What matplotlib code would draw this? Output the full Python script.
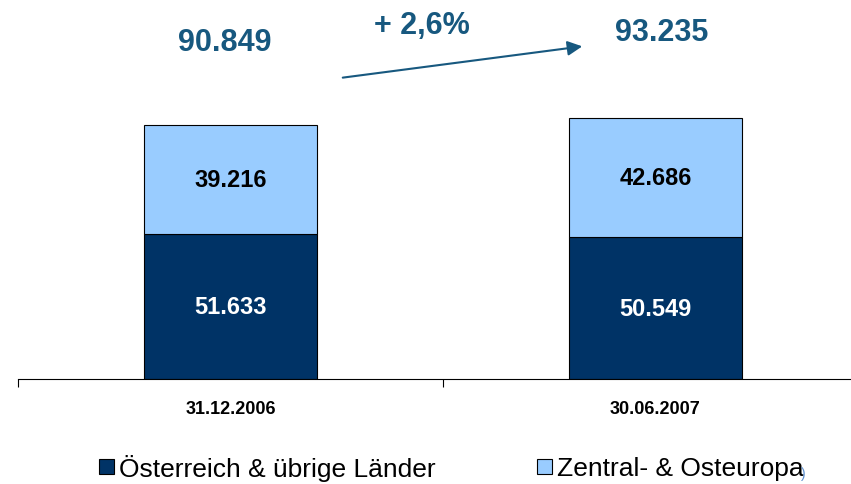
import matplotlib
matplotlib.use("Agg")
import matplotlib.pyplot as plt
import matplotlib.patches as mpatches

plt.rcParams["font.family"] = ["Liberation Sans", "DejaVu Sans"]

# data
dates = ["31.12.2006", "30.06.2007"]
austria = [51633, 50549]
cee = [39216, 42686]
totals = ["90.849", "93.235"]
growth = "+ 2,6%"
series_names = ["Österreich & übrige Länder", "Zentral- & Osteuropa"]

dark = "#003366"
light = "#99CCFF"
head_col = "#17587F"

fig = plt.figure(figsize=(8.51, 4.85), dpi=100)
ax = fig.add_axes([18 / 851, 105 / 485, 850 / 851, 280 / 485])

x = range(len(dates))
ax.bar(x, austria, width=0.405, color=dark, edgecolor="black", linewidth=0.8)
ax.bar(x, cee, width=0.405, bottom=austria, color=light, edgecolor="black", linewidth=0.8)

for i in x:
    ax.text(i, austria[i] / 2, f"{austria[i]/1000:.3f}", ha="center", va="center",
            color="white", fontsize=17, fontweight="bold")
    ax.text(i, austria[i] + cee[i] / 2, f"{cee[i]/1000:.3f}", ha="center", va="center",
            color="black", fontsize=17, fontweight="bold")

ax.set_xlim(-0.5, 1.5)
ax.set_ylim(0, 100000)
ax.set_xticks([-0.5, 0.5, 1.5])
ax.set_xticklabels([])
ax.tick_params(axis="x", length=6, width=0.8, direction="out")
for i, d in enumerate(dates):
    ax.text(i, -10500, d, ha="center", va="center", fontsize=13, fontweight="bold")
ax.set_yticks([])
for s in ["top", "left", "right"]:
    ax.spines[s].set_visible(False)

# header: totals and growth arrow
fig.text(225 / 851, 1 - 43 / 485, totals[0], ha="center", va="center",
         color=head_col, fontsize=22, fontweight="bold")
fig.text(662 / 851, 1 - 33 / 485, totals[1], ha="center", va="center",
         color=head_col, fontsize=22, fontweight="bold")
fig.text(422 / 851, 1 - 26 / 485, growth, ha="center", va="center",
         color=head_col, fontsize=22, fontweight="bold")
fig.add_artist(mpatches.FancyArrowPatch((340 / 851, 1 - 79 / 485), (585 / 851, 1 - 47 / 485),
                                        transform=fig.transFigure, arrowstyle="-|>",
                                        mutation_scale=22, color=head_col, linewidth=1.5))

# legend drawn by hand
legend_boxes = [(99, dark), (537, light)]
for (lx, col), name in zip(legend_boxes, series_names):
    fig.add_artist(mpatches.Rectangle((lx / 851, 1 - 475 / 485), 15 / 851, 15 / 485,
                                      transform=fig.transFigure, facecolor=col,
                                      edgecolor="black", linewidth=0.8))
    fig.text((lx + 20) / 851, 1 - 469 / 485, name, ha="left", va="center", fontsize=19)
fig.text(803 / 851, 1 - 474 / 485, ")", ha="center", va="center", fontsize=10, color="#5B8FD0")

fig.savefig("out.png", dpi=100)
